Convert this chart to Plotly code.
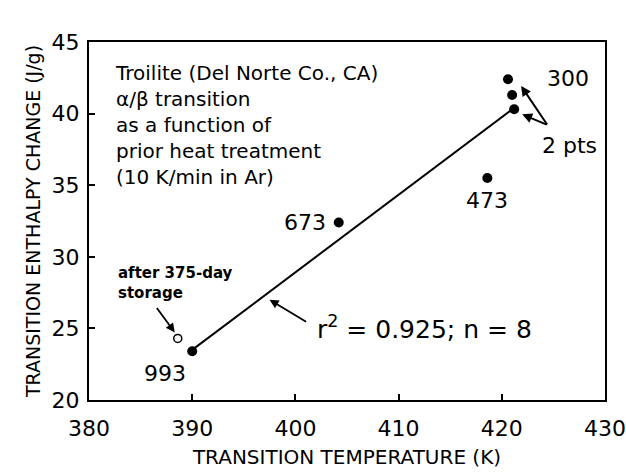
import plotly.graph_objects as go

# Data
temp_k = [390.0, 404.2, 418.6, 420.6, 421.0, 421.2]
enthalpy = [23.4, 32.4, 35.5, 42.4, 41.3, 40.3]
point_labels = ["993", "673", "473", "300", "", ""]

stored_temp = [388.6]
stored_enthalpy = [24.3]

fit_temp = [390.0, 421.2]
fit_enthalpy = [23.5, 40.4]

x_ticks = [380, 390, 400, 410, 420, 430]
y_ticks = [20, 25, 30, 35, 40, 45]

FONT = "DejaVu Sans"

fig = go.Figure()

fig.add_trace(go.Scatter(
    x=fit_temp, y=fit_enthalpy, mode="lines",
    line=dict(color="black", width=2), showlegend=False, hoverinfo="skip"))

fig.add_trace(go.Scatter(
    x=temp_k, y=enthalpy, mode="markers",
    marker=dict(color="black", size=10), showlegend=False))

fig.add_trace(go.Scatter(
    x=stored_temp, y=stored_enthalpy, mode="markers",
    marker=dict(color="white", size=8, line=dict(color="black", width=1.5)),
    showlegend=False))

LBL = dict(size=22)
ann = []
# point labels
ann.append(dict(x=temp_k[0], y=enthalpy[0], text=point_labels[0], showarrow=False,
                xshift=-27, yshift=-22, font=LBL))
ann.append(dict(x=temp_k[1], y=enthalpy[1], text=point_labels[1], showarrow=False,
                xshift=-34, yshift=0, font=LBL))
ann.append(dict(x=temp_k[2], y=enthalpy[2], text=point_labels[2], showarrow=False,
                xshift=0, yshift=-22, font=LBL))
ann.append(dict(x=temp_k[3], y=enthalpy[3], text=point_labels[3], showarrow=False,
                xshift=60, yshift=1, font=LBL))

# "2 pts" with two arrows
ann.append(dict(x=temp_k[3], y=enthalpy[3], text="2 pts", showarrow=False,
                xshift=62, yshift=-66, font=LBL))
ann.append(dict(x=temp_k[4], y=enthalpy[4], text="", showarrow=True,
                xshift=9, yshift=9, arrowhead=2, arrowsize=1, arrowwidth=2,
                arrowcolor="black", ax=27, ay=40))
ann.append(dict(x=temp_k[5], y=enthalpy[5], text="", showarrow=True,
                xshift=8, yshift=-5, arrowhead=2, arrowsize=1, arrowwidth=2,
                arrowcolor="black", ax=26, ay=11))

# after 375-day storage
ann.append(dict(x=stored_temp[0], y=stored_enthalpy[0],
                text="<b>after 375-day<br>storage</b>", showarrow=False,
                xshift=-62, yshift=55, xanchor="left", yanchor="middle",
                align="left", font=dict(size=15)))
ann.append(dict(x=stored_temp[0], y=stored_enthalpy[0], text="", showarrow=True,
                xshift=-3, yshift=6, arrowhead=2, arrowsize=1, arrowwidth=1.8,
                arrowcolor="black", ax=-19, ay=-26))

# r^2 annotation
ann.append(dict(x=397.5, y=27.0, text="", showarrow=True,
                arrowhead=2, arrowsize=1, arrowwidth=1.8, arrowcolor="black",
                ax=38, ay=23))
ann.append(dict(x=397.5, y=27.0, text="r<sup>2</sup> = 0.925; n = 8", showarrow=False,
                xshift=45, yshift=-28, xanchor="left", yanchor="middle",
                font=dict(size=25)))

# Title block
ann.append(dict(x=0.0465, y=0.953, xref="paper", yref="paper",
                text="Troilite (Del Norte Co., CA)<br>α/β transition<br>as a function of<br>prior heat treatment<br>(10 K/min in Ar)",
                showarrow=False, xanchor="left", yanchor="top", align="left",
                font=dict(size=20)))

fig.update_layout(
    width=626, height=474,
    margin=dict(l=89, r=21, t=42, b=74),
    paper_bgcolor="white", plot_bgcolor="white",
    font=dict(family=FONT, color="black", size=18),
    annotations=ann,
    xaxis=dict(range=[380, 430], tickvals=x_ticks, ticks="inside", ticklen=6,
               tickwidth=1.5, tickcolor="black", showline=True, linecolor="black",
               linewidth=2, mirror=True, showgrid=False, zeroline=False,
               automargin=False, ticklabelstandoff=8,
               tickfont=dict(size=22),
               title=dict(text="TRANSITION TEMPERATURE (K)", font=dict(size=20), standoff=10)),
    yaxis=dict(range=[20, 45], tickvals=y_ticks, ticks="inside", ticklen=6,
               tickwidth=1.5, tickcolor="black", showline=True, linecolor="black",
               linewidth=2, mirror=True, showgrid=False, zeroline=False,
               automargin=False, ticklabelstandoff=3,
               tickfont=dict(size=22),
               title=dict(text="TRANSITION ENTHALPY CHANGE (J/g)", font=dict(size=19), standoff=6)),
)

fig.write_html(
    "out.html",
    config={"displayModeBar": False},
    post_script="document.body.style.margin='0';document.body.style.overflow='hidden';",
)
